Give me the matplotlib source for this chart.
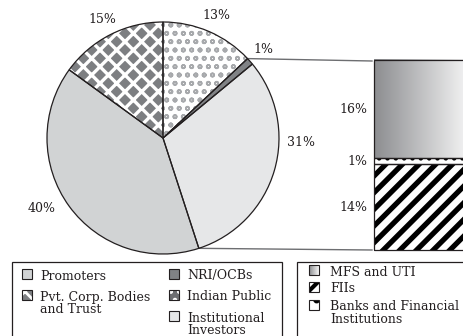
import numpy as np
import matplotlib.pyplot as plt
from matplotlib.patches import Rectangle, Wedge
from matplotlib.colors import LinearSegmentedColormap

plt.rcParams['font.family'] = ['DejaVu Serif']
plt.rcParams['font.size'] = 9

# shareholding pattern (%), clockwise from 12 o'clock
holders = ['Indian Public', 'NRI/OCBs', 'Institutional Investors', 'Promoters',
           'Pvt. Corp. Bodies and Trust']
shares = [13, 1, 31, 40, 15]

# break-up of institutional investors (%), bottom to top in the bar
inst_names = ['FIIs', 'Banks and Financial Institutions', 'MFS and UTI']
inst_shares = [14, 1, 16]

EDGE = '#231f20'
pie_colors = ['white', '#808285', '#e6e7e8', '#d1d3d4', '#7d7f82']
pie_hatch = {0: ('oo', '#a7a9ac', 1.2), 4: ('xx', 'white', 2.4)}

fig = plt.figure(figsize=(4.64, 3.36), dpi=100)
ax = fig.add_axes([0, 0, 1, 1])


def set_hlw(patch, lw):
    if hasattr(patch, 'set_hatch_linewidth'):
        patch.set_hatch_linewidth(lw)


# pie, drawn in pixel-like units (y up)
cx, cy, r = 163, 198, 116
wedges, texts = ax.pie(shares, colors=pie_colors, startangle=90, counterclock=False,
                       center=(cx, cy), radius=r, frame=True,
                       labels=[f'{v}%' for v in shares], labeldistance=1.15,
                       wedgeprops=dict(linewidth=0),
                       textprops=dict(fontsize=9, color=EDGE))
for t in texts:
    t.set_ha('center')
    t.set_va('center')
# 31% and 40% sit a little further out
for t, ang, d in [(texts[2], -2, 1.19), (texts[3], 210, 1.21)]:
    a = np.deg2rad(ang)
    t.set_position((cx + d * r * np.cos(a), cy + d * r * np.sin(a)))

for i, (h, hc, hlw) in pie_hatch.items():
    w = wedges[i]
    hp = Wedge(w.center, w.r, w.theta1, w.theta2, facecolor='none',
               edgecolor=hc, linewidth=0, hatch=h, zorder=3)
    set_hlw(hp, hlw)
    ax.add_patch(hp)

for w in wedges:
    ax.add_patch(Wedge(w.center, w.r, w.theta1, w.theta2, fill=False,
                       edgecolor=EDGE, linewidth=0.9, zorder=4))

# stacked bar for the institutional investors slice
bx0, bx1 = 374, 480
by0, by1 = 86, 276
scale = (by1 - by0) / sum(inst_shares)
bottoms = by0 + scale * np.concatenate([[0], np.cumsum(inst_shares)[:-1]])
heights = scale * np.array(inst_shares)

# FIIs: thick diagonal stripes
p = Rectangle((bx0, bottoms[0]), bx1 - bx0, heights[0], facecolor='white',
              edgecolor='black', linewidth=0, hatch='//', zorder=2)
set_hlw(p, 3.8)
ax.add_patch(p)
# banks: dotted band
p = Rectangle((bx0, bottoms[1]), bx1 - bx0, heights[1], facecolor='white',
              edgecolor='black', linewidth=0, hatch='..', zorder=2)
set_hlw(p, 2)
ax.add_patch(p)
# MFS and UTI: grey to white gradient
grad = LinearSegmentedColormap.from_list('grad', ['#8c8d90', '#f6f6f6'])
ax.imshow(np.linspace(0, 1, 256).reshape(1, -1), cmap=grad, aspect='auto',
          extent=(bx0, bx1 - 10, bottoms[2], bottoms[2] + heights[2]), zorder=2)
for b, h in zip(bottoms, heights):
    ax.add_patch(Rectangle((bx0, b), bx1 - bx0, h, fill=False, edgecolor=EDGE,
                           linewidth=0.9, zorder=3))
for b, h, v in zip(bottoms, heights, inst_shares):
    ax.text(bx0 - 7, b + h / 2, f'{v}%', ha='right', va='center', color=EDGE)

# connector lines from the slice edges to the bar
a_top = np.deg2rad(wedges[1].theta2)
a_bot = np.deg2rad(wedges[2].theta1)
ax.plot([cx + r * np.cos(a_top), bx0 - 2], [cy + r * np.sin(a_top), by1 - 1],
        color='#6d6e71', lw=1, zorder=1)
ax.plot([cx + r * np.cos(a_bot), bx0 - 2], [cy + r * np.sin(a_bot), by0],
        color='#6d6e71', lw=1, zorder=1)

# legends
ax.add_patch(Rectangle((12, -10), 270, 84, fill=False, edgecolor=EDGE, lw=0.9))
ax.add_patch(Rectangle((297, -10), 200, 84, fill=False, edgecolor=EDGE, lw=0.9))


def swatch(x, y, face, hatch=None, hc='black', hlw=1.0):
    s = Rectangle((x, y - 5), 10, 10, facecolor=face, edgecolor=hc,
                  linewidth=0, hatch=hatch, zorder=2)
    if hatch:
        set_hlw(s, hlw)
    ax.add_patch(s)
    ax.add_patch(Rectangle((x, y - 5), 10, 10, fill=False, edgecolor=EDGE,
                           lw=0.8, zorder=3))


def entry(x, y, face, name, hatch=None, hc='black', hlw=1.0, dx=18):
    swatch(x, y, face, hatch, hc, hlw)
    ax.text(x + dx, y + 4.5, name, ha='left', va='top', color=EDGE,
            linespacing=0.95)


entry(22, 62, '#d1d3d4', 'Promoters')
entry(22, 41, '#7d7f82', 'Pvt. Corp. Bodies\nand Trust', 'xx', 'white', 2)
entry(169, 62, '#808285', 'NRI/OCBs')
entry(169, 41, '#6d6e71', 'Indian Public', '..', 'white', 2)
entry(169, 20, '#e6e7e8', 'Institutional\nInvestors')

ax.imshow(np.linspace(0, 1, 32).reshape(1, -1), cmap=grad, aspect='auto',
          extent=(309, 319, 61, 71), zorder=2)
ax.add_patch(Rectangle((309, 61), 10, 10, fill=False, edgecolor=EDGE, lw=0.8, zorder=3))
ax.text(330, 70.5, inst_names[2], ha='left', va='top', color=EDGE)
entry(309, 49, 'white', inst_names[0], '//', 'black', 3, dx=21)
entry(309, 31, 'white', 'Banks and Financial\nInstitutions', '.', 'black', 2.5, dx=21)

ax.set_xlim(0, 464)
ax.set_ylim(0, 336)
ax.set_aspect('equal')
ax.axis('off')

fig.savefig('out.png', dpi=100)
